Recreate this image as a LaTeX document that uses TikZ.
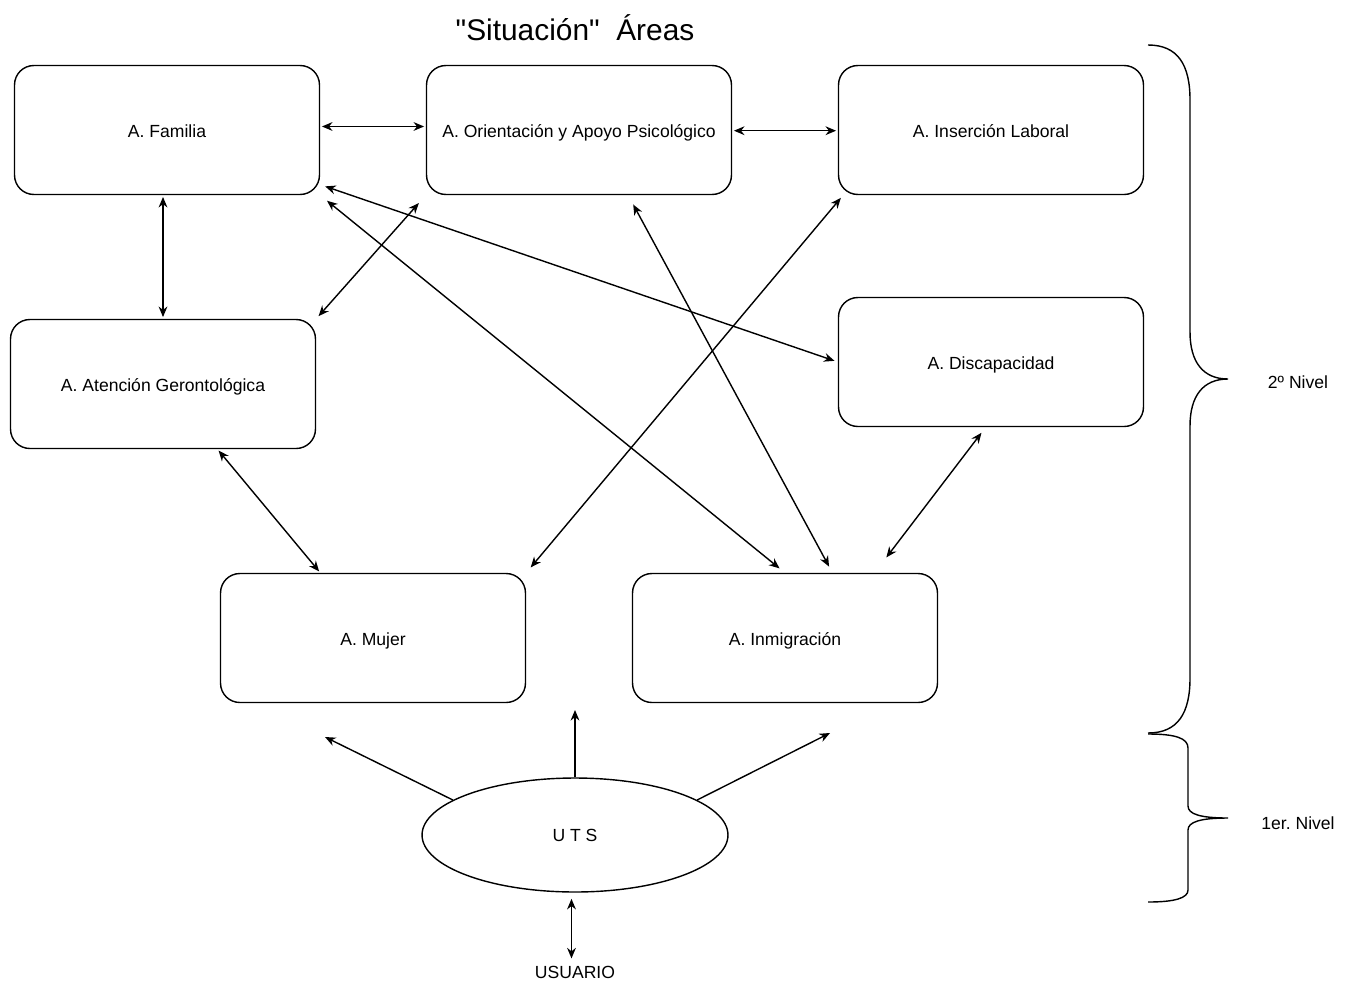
\documentclass[tikz,border=0pt]{standalone}
\usepackage{fontspec}
\setmainfont{Liberation Sans}
\newfontfamily\titlefont{Liberation Sans}
\usetikzlibrary{arrows.meta,shapes.geometric,calc}

\tikzset{
    area/.style={draw, line width=0.8pt, rounded corners=11pt, minimum width=6.1cm, minimum height=2.58cm, text height=10pt, text depth=1.7pt, font=\fontsize{10}{12}\selectfont},
    hub/.style={draw, ellipse, line width=0.8pt, minimum width=6.12cm, minimum height=2.28cm, inner sep=0pt, font=\fontsize{10}{12}\selectfont},
    note/.style={font=\fontsize{10}{12}\selectfont, inner sep=2pt},
    link/.style={line width=0.8pt, {Stealth[length=6pt,width=5pt]}-{Stealth[length=6pt,width=5pt]}},
    feed/.style={line width=0.8pt, -{Stealth[length=6pt,width=5pt]}},
    curly/.style={line width=0.8pt}
}

\begin{document}
\begin{tikzpicture}[x=0.02cm, y=-0.02cm]
        \useasboundingbox (0,0) rectangle (1351,987);

        \node[font=\titlefont\fontsize{17}{20}\selectfont] (ttl) at (575,28) {"Situación"\ \ Áreas}; % Title.

        \node[area] (fam) at (167,130) {A. Familia};
        \node[area] (ori) at (579,130) {A. Orientación y Apoyo Psicológico};
        \node[area] (ins) at (991,130) {A. Inserción Laboral};
        \node[area] (ger) at (163,384) {A. Atención Gerontológica};
        \node[area] (dis) at (991,362) {A. Discapacidad};
        \node[area] (muj) at (373,638) {A. Mujer};
        \node[area] (inm) at (785,638) {A. Inmigración};
        \node[hub] (uts) at (575,835) {U T S};
        \node[note] (usr) at (575,972) {USUARIO};

        % Links between areas.
        \draw[link, shorten <=1pt, shorten >=1pt] ([yshift=2pt]fam.east) -- ([yshift=2pt]ori.west);
        \draw[link, shorten <=1pt, shorten >=1pt] ([yshift=-0.4pt]ori.east) -- ([yshift=-0.4pt]ins.west);
        \draw[link, shorten <=1pt, shorten >=1pt] (fam.south -| ger.north) -- (ger.north);
        \draw[link, shorten <=6pt, shorten >=2pt] (ori.south west) -- (ger.north east);
        \draw[link, shorten <=3pt, shorten >=2pt] ([yshift=6pt]fam.south east) -- (dis.west);
        \draw[link, shorten <=5pt, shorten >=4pt] (fam.south east) -- (inm.north);
        \draw[link, shorten <=6pt, shorten >=4pt] ([xshift=28pt]ori.south) -- ([xshift=27pt]inm.north);
        \draw[link, shorten <=2pt, shorten >=4pt] ([xshift=3pt]ins.south west) -- (muj.north east);
        \draw[link, shorten <=4pt, shorten >=11pt] ([xshift=-3pt]dis.south) -- ([xshift=51pt]inm.north);
        \draw[link, shorten <=1pt, shorten >=1pt] ([xshift=31pt]ger.south) -- ([xshift=-30pt]muj.north);

        % First level.
        \coordinate (mujIn) at (325,737);
        \coordinate (midIn) at (575,710);
        \coordinate (inmIn) at (830,733);
        \draw[feed] (uts.164) -- (mujIn);
        \draw[feed] (uts.north) -- (midIn);
        \draw[feed] (uts.16) -- (inmIn);
        \draw[link, shorten <=3.5pt, shorten >=2pt] ([xshift=-2pt]uts.south) -- ([xshift=-2pt]usr.north);

        % Braces.
        \draw[curly] (1148,45) .. controls (1178,45) and (1190,65) .. (1190,100) -- (1190,332)
            .. controls (1190,362) and (1203,379) .. (1228,379)
            .. controls (1203,379) and (1190,396) .. (1190,426) -- (1190,678)
            .. controls (1190,713) and (1178,733) .. (1148,733);
        \draw[curly] (1148,734) .. controls (1175,734) and (1188,738) .. (1188,748) -- (1188,806)
            .. controls (1188,814) and (1200,818) .. (1228,818)
            .. controls (1200,818) and (1188,822) .. (1188,830) -- (1188,890)
            .. controls (1188,898) and (1175,902) .. (1148,902);
        \node[note] (lvl2) at (1298,382) {2º Nivel};
        \node[note] (lvl1) at (1298,823) {1er.\ Nivel};
    \end{tikzpicture}
\end{document}
